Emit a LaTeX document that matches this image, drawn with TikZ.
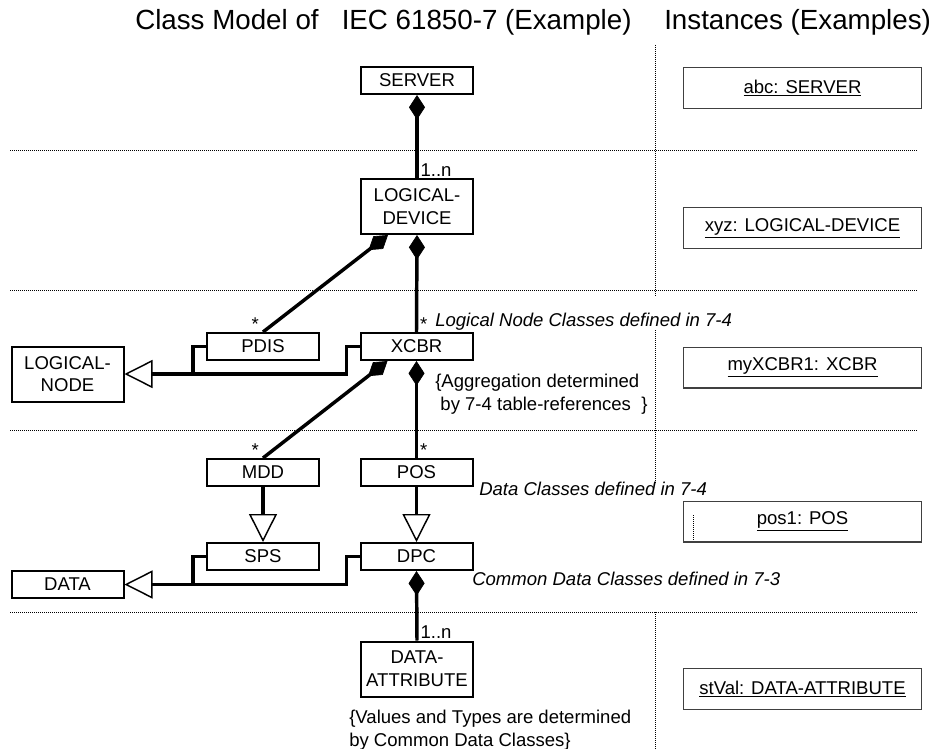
\documentclass[tikz,border=0pt]{standalone}
\usepackage{fontspec}
\setmainfont{Liberation Sans}
\usepackage{tikz}
\usetikzlibrary{arrows.meta}
\definecolor{instgray}{HTML}{404040}

\begin{document}
\begin{tikzpicture}[
  x=0.75pt,
  y=-0.75pt,
  font=\fontsize{13.9}{17}\selectfont,
  cls/.style={draw=black, line width=1.5pt, align=center, inner sep=1pt,
    minimum width=84pt, minimum height=20.25pt},
  clstall/.style={cls, minimum height=41.25pt},
  inst/.style={draw=instgray, line width=0.8pt, inner sep=1pt,
    minimum width=178.5pt, minimum height=30.7pt},
  sepline/.style={draw=black, line width=0.75pt, dash pattern=on 0.75pt off 0.75pt},
  link/.style={draw=black, line width=2.6pt},
  agg/.style={link, {Diamond[length=18.5pt,width=12pt,line width=0.5pt]}-},
  gen/.style={link, -{Triangle[length=21pt,width=21pt,fill=white,line width=1.1pt]}},
  mult/.style={inner sep=1pt},
  note/.style={align=left, inner sep=0pt, anchor=base west}
]
\useasboundingbox (0,0) rectangle (932,749);

% separators
\foreach \ylev in {150,290,430,612}
  \draw[sepline] (10,\ylev) -- (918,\ylev);
\draw[sepline] (655,45) -- (655,297);
\draw[sepline] (655,330) -- (655,483);
\draw[sepline] (655,612) -- (655,749);
\draw[sepline] (693,515) -- (693,540);

% headings
\node[anchor=base west, inner sep=0pt, font=\fontsize{20.8}{25}\selectfont] (modeltitle)
  at (135,30) {Class Model of~~~IEC 61850-7 (Example)};
\node[anchor=base west, inner sep=0pt, font=\fontsize{20.8}{25}\selectfont] (insttitle)
  at (664,30) {Instances (Examples)};

% class model
\node[cls] (server) at (417,80.5) {SERVER};
\node[clstall] (ldev) at (417,206.5) {LOGICAL-\\DEVICE};
\node[cls] (pdis) at (263,346.5) {PDIS};
\node[cls] (xcbr) at (416.5,346.5) {XCBR};
\node[clstall] (lnode) at (67.5,374) {LOGICAL-\\NODE};
\node[cls] (mdd) at (263,472.5) {MDD};
\node[cls] (pos) at (416.5,472.5) {POS};
\node[cls] (sps) at (263,556.5) {SPS};
\node[cls] (dpc) at (416.5,556.5) {DPC};
\node[cls] (data) at (67.5,584.5) {DATA};
\node[clstall] (dattr) at (417,669) {DATA-\\ATTRIBUTE};

\draw[agg] (server.south) -- (ldev.north);
\draw[agg] (ldev.south) -- (xcbr.north);
\draw[agg] ([xshift=-21.75pt]ldev.south) -- (pdis.north);
\draw[agg] (xcbr.south) -- (pos.north);
\draw[agg] ([xshift=-21.75pt]xcbr.south) -- (mdd.north);
\draw[agg] (dpc.south) -- (dattr.north);

\coordinate (lnjoin) at (193,374);
\draw[link] (pdis.west) -| (lnjoin);
\draw[gen] (xcbr.west) -- ++(-13,0) |- (lnode.east);
\coordinate (datajoin) at (193,584.5);
\draw[link] (sps.west) -| (datajoin);
\draw[gen] (dpc.west) -- ++(-13,0) |- (data.east);
\draw[gen] (mdd.south) -- (sps.north);
\draw[gen] (pos.south) -- (dpc.north);

\node[mult, anchor=south west] at ([xshift=1.5pt]ldev.north) {1..n};
\node[mult, anchor=south west] at ([xshift=1.5pt]dattr.north) {1..n};
\node[mult, anchor=south east] at ([xshift=-2pt]pdis.north) {*};
\node[mult, anchor=south west] at ([xshift=1.5pt]xcbr.north) {*};
\node[mult, anchor=south east] at ([xshift=-2pt]mdd.north) {*};
\node[mult, anchor=south west] at ([xshift=1.5pt]pos.north) {*};

\node[note, font=\fontsize{13.9}{17}\selectfont\itshape] (lnnote) at (435,326)
  {Logical Node Classes defined in 7-4};
\node[note] (aggnote) at (435,410)
  {\{Aggregation determined\\\hspace*{0.28em}by 7-4 table-references~~\}};
\node[note, font=\fontsize{13.9}{17}\selectfont\itshape] (dcnote) at (479,495)
  {Data Classes defined in 7-4};
\node[note, font=\fontsize{13.9}{17}\selectfont\itshape] (cdcnote) at (472,585)
  {Common Data Classes defined in 7-3};
\node[note] (valnote) at (349,746)
  {\{Values and Types are determined\\by Common Data Classes\}};

% instances
\node[inst] (abcsrv) at (802.5,88) {\underline{abc: SERVER}};
\node[inst] (xyzld) at (802.5,228) {\underline{xyz: LOGICAL-DEVICE}};
\node[inst] (myxcbr) at (802.5,367.5) {\underline{myXCBR1: XCBR}};
\node[inst] (posone) at (802.5,521.5) {\underline{pos1: POS}};
\node[inst] (stval) at (802.5,689) {\underline{stVal: DATA-ATTRIBUTE}};

\end{tikzpicture}
\end{document}
